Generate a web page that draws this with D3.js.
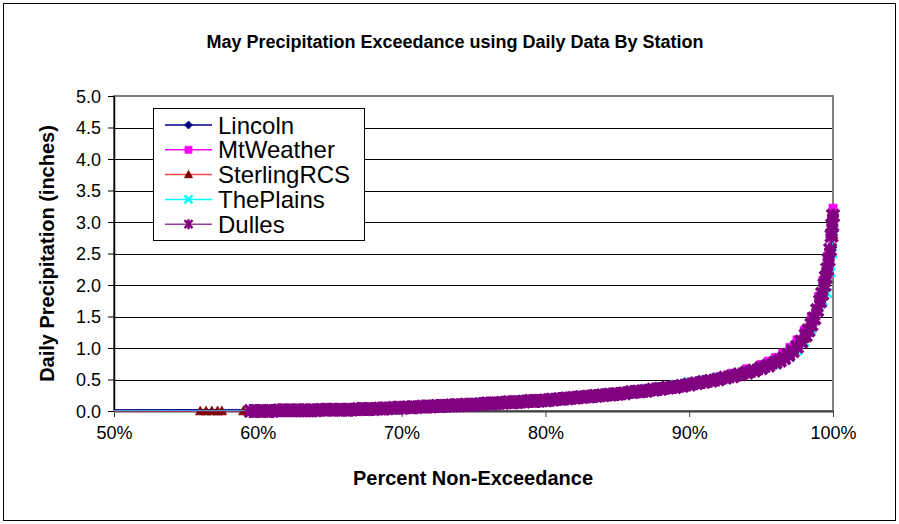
<!DOCTYPE html>
<html>
<head>
<meta charset="utf-8">
<script src="https://cdn.jsdelivr.net/npm/d3@7"></script>
<style>
  html, body { margin: 0; padding: 0; background: #fff; }
  svg { display: block; font-family: Arial, "Liberation Sans", sans-serif; }
</style>
</head>
<body>
<svg id="chart" width="899" height="524"></svg>
<script>
// ---------------- DATA ----------------
const chartTitle = "May Precipitation Exceedance using Daily Data By Station";
const xTitle = "Percent Non-Exceedance";
const yTitle = "Daily Precipitation (inches)";
const xTicks = [50, 60, 70, 80, 90, 100];
const xTickLabels = ["50%", "60%", "70%", "80%", "90%", "100%"];
const yTicks = [0, 0.5, 1, 1.5, 2, 2.5, 3, 3.5, 4, 4.5, 5];
const yTickLabels = ["0.0", "0.5", "1.0", "1.5", "2.0", "2.5", "3.0", "3.5", "4.0", "4.5", "5.0"];
const seriesNames = ["Lincoln", "MtWeather", "SterlingRCS", "ThePlains", "Dulles"];

const lincolnPct = [0, 69.8, 71, 72, 73, 74, 75, 76, 77, 78, 79, 80, 81, 82, 83, 84, 85, 86, 87, 88, 89, 90, 91, 92, 93, 94, 95, 96, 97, 97.5, 98, 98.5, 99, 99.3, 99.6, 99.8, 99.95, 100];
const lincolnVal = [0, 0.03, 0.06, 0.07, 0.09, 0.10, 0.11, 0.12, 0.14, 0.15, 0.17, 0.19, 0.21, 0.23, 0.25, 0.27, 0.29, 0.32, 0.35, 0.38, 0.41, 0.45, 0.49, 0.53, 0.58, 0.63, 0.69, 0.77, 0.90, 1.00, 1.15, 1.35, 1.65, 1.90, 2.20, 2.44, 2.60, 3.02];

const mtWeatherPct = [0, 64.3, 66.1, 68, 70, 72, 74, 76, 78, 80, 82, 84, 86, 88, 89, 90, 91, 92, 93, 94, 95, 95.5, 96, 96.5, 97, 97.5, 98, 98.5, 99, 99.3, 99.6, 99.8, 99.9, 100];
const mtWeatherVal = [0, 0.01, 0.02, 0.03, 0.05, 0.08, 0.10, 0.12, 0.15, 0.18, 0.22, 0.26, 0.31, 0.38, 0.41, 0.45, 0.49, 0.54, 0.60, 0.67, 0.74, 0.79, 0.85, 0.92, 1.01, 1.13, 1.28, 1.50, 1.82, 2.07, 2.45, 2.80, 3.05, 3.22];

const sterlingPct = [0, 56, 56.4, 56.8, 57.2, 57.5, 59, 61.4, 61.8, 65.9, 69.1, 70.9, 73.2, 74, 74.8, 75.7, 78.9, 83, 86, 89, 93.2, 94, 96, 97, 98, 99, 99.5, 100];
const sterlingVal = [0, 0, 0, 0, 0, 0, 0, 0.01, 0.01, 0.02, 0.04, 0.06, 0.07, 0.09, 0.10, 0.11, 0.16, 0.23, 0.29, 0.38, 0.55, 0.60, 0.75, 0.90, 1.15, 1.65, 2.10, 2.80];

const thePlainsPct = [0, 62, 63.8, 66.3, 67.6, 68, 69.4, 71.3, 72.4, 73.8, 76.4, 77, 79, 81.4, 82.5, 83.6, 85, 86, 87, 88, 89, 90, 91, 92, 93, 94, 95, 96, 97, 97.5, 98, 98.5, 99, 99.3, 99.6, 99.85, 99.95, 100];
const thePlainsVal = [0, 0.01, 0.01, 0.02, 0.02, 0.02, 0.03, 0.06, 0.07, 0.08, 0.12, 0.12, 0.15, 0.20, 0.22, 0.24, 0.29, 0.32, 0.35, 0.38, 0.42, 0.46, 0.49, 0.53, 0.57, 0.62, 0.67, 0.74, 0.86, 0.96, 1.10, 1.30, 1.58, 1.75, 1.87, 2.20, 2.50, 2.86];

const dullesPct = [0, 59.5, 60, 60.5, 61, 61.5, 62, 62.5, 63, 63.5, 64, 64.5, 65, 65.5, 66, 66.5, 67, 67.5, 68, 68.5, 69, 69.5, 70, 70.5, 71, 71.5, 72, 72.5, 73, 73.5, 74, 74.5, 75, 75.5, 76, 76.5, 77, 77.5, 78, 78.5, 79, 79.5, 80, 80.5, 81, 81.5, 82, 82.5, 83, 83.5, 84, 84.5, 85, 85.5, 86, 86.5, 87, 87.5, 88, 88.5, 89, 89.5, 90, 90.5, 91, 91.5, 92, 92.5, 93, 93.5, 94, 94.5, 95, 95.5, 96, 96.3, 96.6, 96.9, 97.2, 97.5, 97.8, 98.1, 98.3, 98.5, 98.7, 98.9, 99.1, 99.25, 99.4, 99.5, 99.6, 99.7, 99.8, 99.9, 99.95, 100];
const dullesVal = [0, 0.00, 0.00, 0.00, 0.00, 0.01, 0.01, 0.01, 0.01, 0.01, 0.01, 0.02, 0.02, 0.02, 0.02, 0.02, 0.03, 0.03, 0.03, 0.04, 0.04, 0.05, 0.05, 0.06, 0.06, 0.07, 0.07, 0.08, 0.08, 0.09, 0.09, 0.10, 0.10, 0.11, 0.12, 0.12, 0.13, 0.14, 0.14, 0.15, 0.16, 0.16, 0.17, 0.18, 0.19, 0.20, 0.21, 0.22, 0.23, 0.24, 0.25, 0.26, 0.27, 0.28, 0.30, 0.31, 0.32, 0.34, 0.35, 0.37, 0.38, 0.40, 0.42, 0.44, 0.46, 0.48, 0.50, 0.53, 0.55, 0.58, 0.61, 0.64, 0.68, 0.72, 0.77, 0.80, 0.84, 0.89, 0.95, 1.02, 1.10, 1.20, 1.28, 1.37, 1.47, 1.60, 1.74, 1.86, 2.00, 2.12, 2.25, 2.40, 2.56, 2.78, 2.95, 3.10];

// ---------------- LAYOUT / STYLE ----------------
const W = 899, H = 524;
const plot = { left: 114, right: 833, top: 96, bottom: 411 };

const styles = [
  { name: seriesNames[0], line: "#000080", fill: "#000080", shape: "diamond", size: 4.5 },
  { name: seriesNames[1], line: "#ff00ff", fill: "#ff00ff", shape: "square", size: 4.5 },
  { name: seriesNames[2], line: "#f04a4a", fill: "#800000", shape: "triangle", size: 4.8 },
  { name: seriesNames[3], line: "#00ffff", fill: "#00ffff", shape: "x", size: 4.5 },
  { name: seriesNames[4], line: "#9a3a9a", fill: "#800080", shape: "star", size: 6 }
];
const seriesData = [
  [lincolnPct, lincolnVal],
  [mtWeatherPct, mtWeatherVal],
  [sterlingPct, sterlingVal],
  [thePlainsPct, thePlainsVal],
  [dullesPct, dullesVal]
].map(([p, v]) => p.map((d, i) => ({ pct: d, val: v[i] })));

const svg = d3.select("#chart");
svg.append("rect").attr("x", 0).attr("y", 0).attr("width", W).attr("height", H).attr("fill", "#fff");
// outer border
svg.append("rect").attr("x", 3.5).attr("y", 3.5).attr("width", 892).attr("height", 517)
  .attr("fill", "none").attr("stroke", "#000").attr("stroke-width", 1);

const x = d3.scaleLinear().domain([50, 100]).range([plot.left, plot.right]);
const y = d3.scaleLinear().domain([0, 5]).range([plot.bottom, plot.top]);

// gridlines
svg.append("g").selectAll("line").data(yTicks.filter(t => t > 0 && t < 5)).join("line")
  .attr("x1", plot.left).attr("x2", plot.right)
  .attr("y1", d => Math.round(y(d)) + 0.5).attr("y2", d => Math.round(y(d)) + 0.5)
  .attr("stroke", "#000").attr("stroke-width", 1);

// plot frame (top/right gray)
svg.append("rect").attr("x", plot.left).attr("y", plot.top)
  .attr("width", plot.right - plot.left).attr("height", plot.bottom - plot.top)
  .attr("fill", "none").attr("stroke", "#808080").attr("stroke-width", 2);

// axes
const yAxis = d3.axisLeft(y).tickValues(yTicks).tickFormat((d, i) => yTickLabels[i]).tickSize(6).tickSizeOuter(0);
const gy = svg.append("g").attr("transform", `translate(${plot.left},0)`).call(yAxis);
gy.select(".domain").attr("stroke", "#000").attr("stroke-width", 1.5);
gy.selectAll(".tick line").attr("stroke", "#000");
gy.selectAll(".tick text").attr("font-size", 18).attr("font-family", "Arial, 'Liberation Sans', sans-serif")
  .attr("fill", "#000").attr("x", -13).attr("dy", "0.36em");

const xAxis = d3.axisBottom(x).tickValues(xTicks).tickFormat((d, i) => xTickLabels[i]).tickSize(6).tickSizeOuter(0);
const gx = svg.append("g").attr("transform", `translate(0,${plot.bottom})`).call(xAxis);
gx.select(".domain").attr("stroke", "#404040").attr("stroke-width", 2);
gx.selectAll(".tick line").attr("stroke", "#404040");
gx.selectAll(".tick text").attr("font-size", 18).attr("font-family", "Arial, 'Liberation Sans', sans-serif")
  .attr("fill", "#000").attr("y", 22).attr("dy", "0.36em");

// symbols
function symbolPath(shape, s) {
  switch (shape) {
    case "diamond": return `M0,${-s}L${s},0L0,${s}L${-s},0Z`;
    case "square": return `M${-s + 0.5},${-s + 0.5}H${s - 0.5}V${s - 0.5}H${-s + 0.5}Z`;
    case "triangle": return `M0,${-s}L${s},${s * 0.8}L${-s},${s * 0.8}Z`;
    case "x": return `M${-s},${-s}L${s},${s}M${-s},${s}L${s},${-s}`;
    case "star": return `M${-s},${-s}L${s},${s}M${-s},${s}L${s},${-s}M0,${-s - 1}L0,${s + 1}M${-s},0L${s},0`;
  }
}
function drawSymbol(g, st, cx, cy, s, sw) {
  const stroked = st.shape === "x" || st.shape === "star";
  g.append("path").attr("d", symbolPath(st.shape, s))
    .attr("transform", `translate(${cx},${cy})`)
    .attr("fill", stroked ? "none" : st.fill)
    .attr("stroke", st.fill)
    .attr("stroke-width", stroked ? sw : 0.8);
}

// clip for lines
svg.append("clipPath").attr("id", "clipPlot").append("rect")
  .attr("x", plot.left).attr("y", 0).attr("width", W - plot.left).attr("height", H);

const line = d3.line().x(d => x(d.pct)).y(d => y(d.val));
const seriesG = svg.append("g");
seriesData.forEach((data, si) => {
  const st = styles[si];
  const g = seriesG.append("g");
  g.append("path").datum(data).attr("d", line)
    .attr("fill", "none").attr("stroke", st.line).attr("stroke-width", 1)
    .attr("clip-path", "url(#clipPlot)");
  data.filter(d => d.pct >= 50).forEach(d => drawSymbol(g, st, x(d.pct), y(d.val), st.size, st.shape === "star" ? 3.8 : 2.4));
});

// legend
const lg = svg.append("g");
lg.append("rect").attr("x", 153.5).attr("y", 108.5).attr("width", 211).attr("height", 132)
  .attr("fill", "#fff").attr("stroke", "#000").attr("stroke-width", 1);
styles.forEach((st, i) => {
  const cy = 125 + i * 24.8;
  lg.append("line").attr("x1", 165).attr("x2", 212).attr("y1", cy).attr("y2", cy)
    .attr("stroke", st.line).attr("stroke-width", 1.5);
  if (st.shape === "star") {
    lg.append("path").attr("d", `M-4,-4L4,4M-4,4L4,-4M0,-5L0,5`).attr("transform", `translate(188.5,${cy})`)
      .attr("fill", "none").attr("stroke", st.fill).attr("stroke-width", 2.4);
  } else {
    drawSymbol(lg, st, 188.5, cy, 4, 2.4);
  }
  lg.append("text").attr("x", 218).attr("y", cy).attr("dy", "0.36em")
    .attr("font-size", 24).attr("fill", "#000").text(st.name);
});

// titles
svg.append("text").attr("x", 455).attr("y", 48).attr("text-anchor", "middle")
  .attr("font-size", 18).attr("font-weight", "bold").text(chartTitle);
svg.append("text").attr("x", 473).attr("y", 485).attr("text-anchor", "middle")
  .attr("font-size", 20).attr("font-weight", "bold").text(xTitle);
svg.append("text").attr("transform", `translate(54,${(plot.top + plot.bottom) / 2}) rotate(-90)`)
  .attr("text-anchor", "middle").attr("font-size", 20).attr("font-weight", "bold").text(yTitle);
</script>
</body>
</html>
